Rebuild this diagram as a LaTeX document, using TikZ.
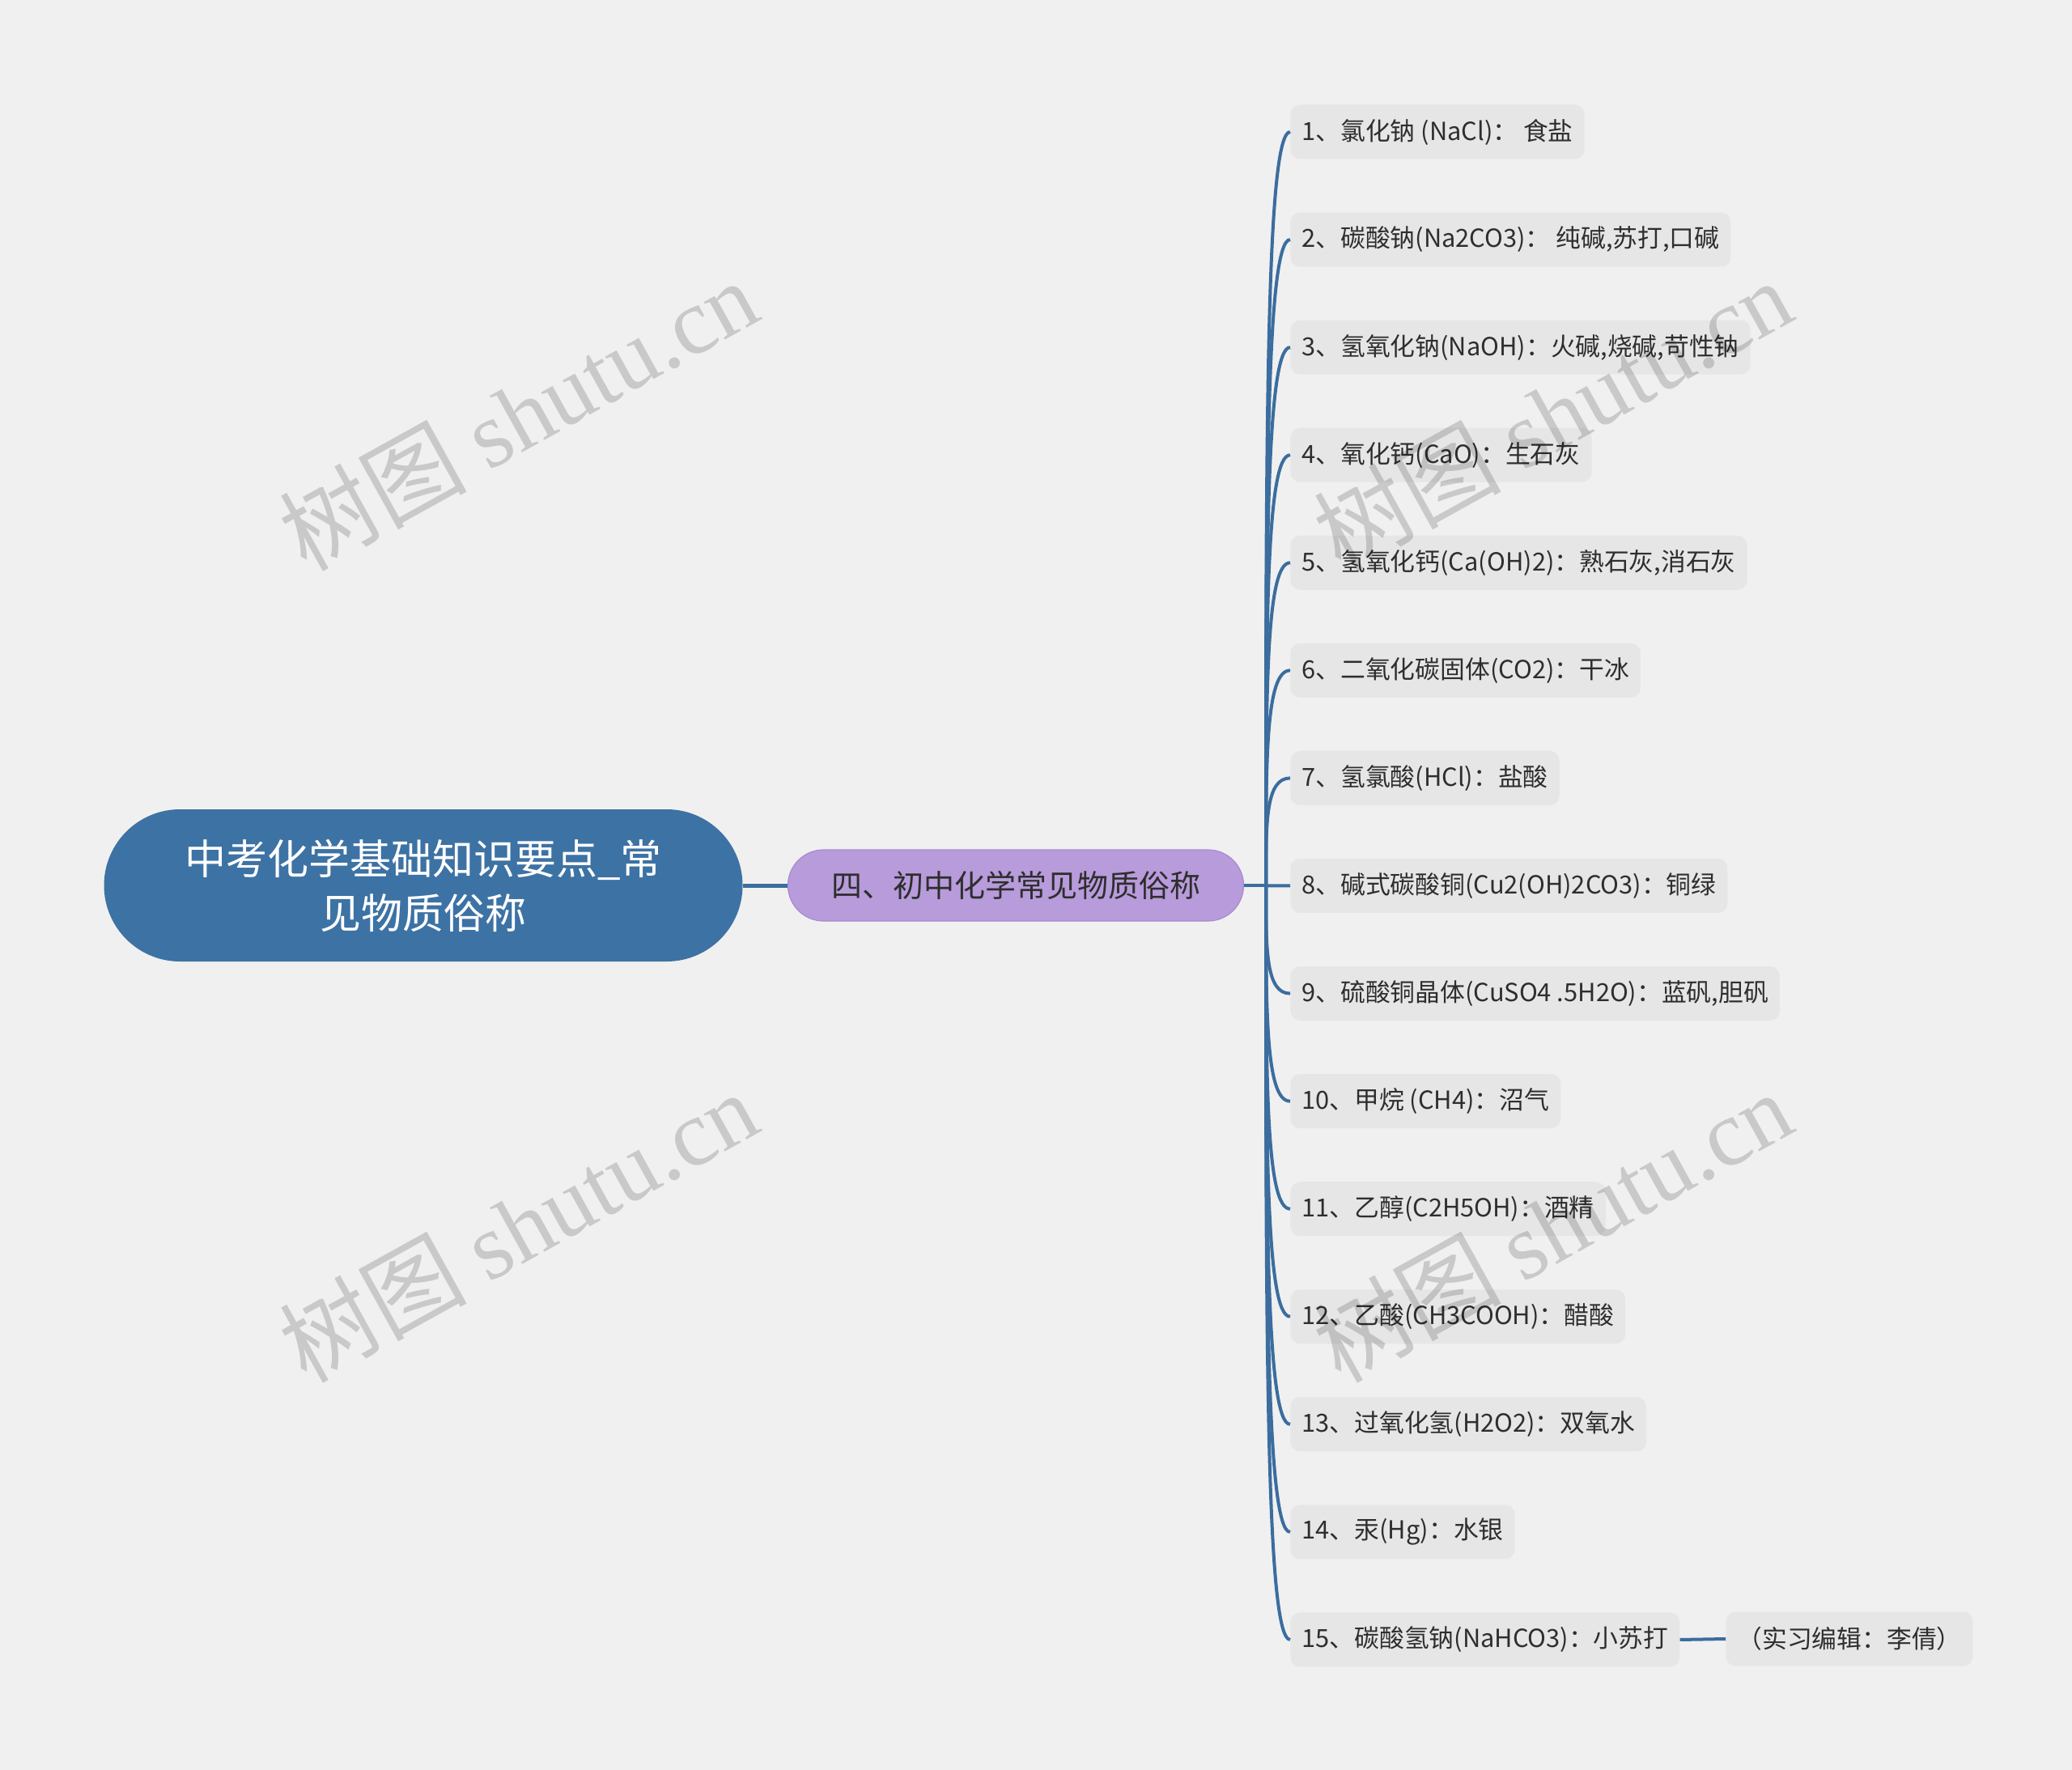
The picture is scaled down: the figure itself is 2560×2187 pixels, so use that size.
\documentclass[tikz,border=0pt]{standalone}
\usepackage{fontspec}
\setmainfont{Noto Sans CJK SC}
\newfontfamily\markfont{Liberation Serif}
\usetikzlibrary{calc}
\definecolor{paper}{HTML}{F0F0F0}
\definecolor{rootblue}{HTML}{3D72A4}
\definecolor{wire}{HTML}{3B6D9E}
\definecolor{lilac}{HTML}{B89BDB}
\definecolor{lilacedge}{HTML}{A88BCF}
\definecolor{chip}{HTML}{E6E6E6}
\definecolor{ink}{HTML}{2E2E2E}

\begin{document}
\begin{tikzpicture}[x=0.5pt,y=-0.5pt,
  root/.style={fill=rootblue,text=white,rounded corners=47pt,
    minimum width=394.5pt,minimum height=94pt,inner sep=0pt,
    align=center,font=\fontsize{25.5}{33.5}\selectfont},
  topic/.style={fill=lilac,draw=lilacedge,line width=.6pt,text=ink,
    rounded corners=22pt,minimum width=281.5pt,minimum height=44pt,
    inner sep=0pt,font=\fontsize{19}{23}\selectfont},
  leaf/.style={fill=chip,text=ink,rounded corners=6pt,anchor=west,
    minimum height=33.5pt,inner xsep=7pt,inner ysep=0pt,
    font=\fontsize{15.4}{18}\selectfont},
  branch/.style={draw=wire,line width=2pt},
  wmark/.style={text=black,opacity=.16,rotate=29,
    font=\fontsize{58}{58}\selectfont}
]
  \fill[paper] (0,0) rectangle (2560,2187);
  \useasboundingbox (0,0) rectangle (2560,2187);

  \node[root] (root) at (523,1094)
    {中考化学基础知识要点\_常\\见物质俗称};
  \node[topic] (topic) at (1255,1094) {四、初中化学常见物质俗称};
  \coordinate (hub) at (1564,1094);

  \foreach \i/\txt in {
    1/{1、氯化钠 (NaCl)：~食盐},
    2/{2、碳酸钠(Na2CO3)：~纯碱,苏打,口碱},
    3/{3、氢氧化钠(NaOH)：火碱,烧碱,苛性钠},
    4/{4、氧化钙(CaO)：生石灰},
    5/{5、氢氧化钙(Ca(OH)2)：熟石灰,消石灰},
    6/{6、二氧化碳固体(CO2)：干冰},
    7/{7、氢氯酸(HCl)：盐酸},
    8/{8、碱式碳酸铜(Cu2(OH)2CO3)：铜绿},
    9/{9、硫酸铜晶体(CuSO4 .5H2O)：蓝矾,胆矾},
    10/{10、甲烷 (CH4)：沼气},
    11/{11、乙醇(C2H5OH)：酒精},
    12/{12、乙酸(CH3COOH)：醋酸},
    13/{13、过氧化氢(H2O2)：双氧水},
    14/{14、汞(Hg)：水银},
    15/{15、碳酸氢钠(NaHCO3)：小苏打}}{
    \node[leaf] (leaf\i) at (1594,{163+133.07*(\i-1)}) {\txt};
    \draw[branch] (hub)
      .. controls ($(hub)!0.6!(hub |- leaf\i.west)$)
      and (hub |- leaf\i.west) .. (leaf\i.west);
  }
  \node[leaf] (note) at (2132,2025) {（实习编辑：李倩）};

  \draw[branch,line width=2.5pt] (root) -- (topic);
  \draw[branch] (topic) -- (hub);
  \draw[branch] (leaf15.east) -- (note.west);

  % watermark
  \node[wmark] (wm1) at (640,512) {树图 {\markfont shutu.cn}};
  \node[wmark] (wm2) at (1918,512) {树图 {\markfont shutu.cn}};
  \node[wmark] (wm3) at (640,1515) {树图 {\markfont shutu.cn}};
  \node[wmark] (wm4) at (1918,1515) {树图 {\markfont shutu.cn}};
\end{tikzpicture}
\end{document}
